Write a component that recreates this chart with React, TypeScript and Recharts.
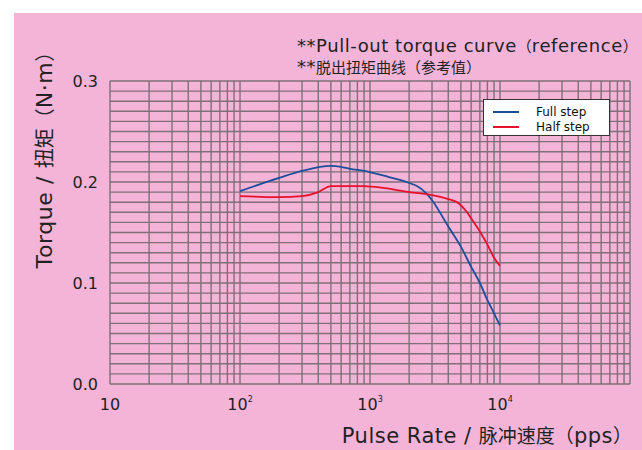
import { LineChart, Line, XAxis, YAxis, CartesianGrid } from 'recharts';

/* ---- data ---- */
const FULL_STEP = [
  { x: 100, y: 0.191 },
  { x: 200, y: 0.204 },
  { x: 300, y: 0.211 },
  { x: 500, y: 0.216 },
  { x: 600, y: 0.215 },
  { x: 700, y: 0.213 },
  { x: 900, y: 0.211 },
  { x: 1300, y: 0.206 },
  { x: 1700, y: 0.202 },
  { x: 2000, y: 0.199 },
  { x: 2300, y: 0.196 },
  { x: 2700, y: 0.189 },
  { x: 3000, y: 0.182 },
  { x: 4000, y: 0.156 },
  { x: 5000, y: 0.136 },
  { x: 6000, y: 0.116 },
  { x: 7000, y: 0.1 },
  { x: 8000, y: 0.083 },
  { x: 9000, y: 0.07 },
  { x: 10000, y: 0.058 },
];

const HALF_STEP = [
  { x: 100, y: 0.186 },
  { x: 200, y: 0.185 },
  { x: 300, y: 0.186 },
  { x: 400, y: 0.19 },
  { x: 500, y: 0.196 },
  { x: 700, y: 0.196 },
  { x: 900, y: 0.196 },
  { x: 1300, y: 0.194 },
  { x: 2000, y: 0.19 },
  { x: 3000, y: 0.187 },
  { x: 4000, y: 0.183 },
  { x: 4800, y: 0.179 },
  { x: 5500, y: 0.171 },
  { x: 6000, y: 0.164 },
  { x: 7000, y: 0.151 },
  { x: 8000, y: 0.138 },
  { x: 9000, y: 0.125 },
  { x: 10000, y: 0.117 },
];

/* grid ticks (log minors on x, 0.01 steps on y) */
const X_TICKS = [
  10, 20, 30, 40, 50, 60, 70, 80, 90,
  100, 200, 300, 400, 500, 600, 700, 800, 900,
  1000, 2000, 3000, 4000, 5000, 6000, 7000, 8000, 9000,
  10000, 20000, 30000, 40000, 50000, 60000, 70000, 80000, 90000,
  100000,
];
const X_LABELS: Record<number, string> = { 10: '', 100: '2', 1000: '3', 10000: '4' };

const Y_TICKS = [
  0, 0.01, 0.02, 0.03, 0.04, 0.05, 0.06, 0.07, 0.08, 0.09,
  0.1, 0.11, 0.12, 0.13, 0.14, 0.15, 0.16, 0.17, 0.18, 0.19,
  0.2, 0.21, 0.22, 0.23, 0.24, 0.25, 0.26, 0.27, 0.28, 0.29,
  0.3,
];
const Y_LABELS: Record<string, string> = { '0': '0.0', '0.1': '0.1', '0.2': '0.2', '0.3': '0.3' };

const SERIES = [
  { name: 'Full step', data: FULL_STEP, color: '#1b4e9b' },
  { name: 'Half step', data: HALF_STEP, color: '#e8102b' },
];

const FONT = '"DejaVu Sans", Verdana, "Noto Sans CJK SC", sans-serif';
const PINK = '#f4b4d8';
const GRID = '#7f6f79';
const INK = '#222';

const CJK_RUN = /[\u3000-\u9fff\uff00-\uffef]+|[^\u3000-\u9fff\uff00-\uffef]+/g;
const IS_CJK = /[\u3000-\u9fff\uff00-\uffef]/;

// latin and CJK runs were set at different sizes in the original
function Mixed({ text, latin, cjk, spacing = 0 }: { text: string; latin: number; cjk: number; spacing?: number }) {
  const runs = text.match(CJK_RUN) || [];
  return (
    <>
      {runs.map((r, i) =>
        IS_CJK.test(r) ? (
          <span key={i} style={{ fontSize: cjk }}>
            {r}
          </span>
        ) : (
          <span key={i} style={{ fontSize: latin, letterSpacing: spacing }}>
            {r}
          </span>
        ),
      )}
    </>
  );
}

function XTick({ x, y, payload }: any) {
  const v = payload.value;
  if (!(v in X_LABELS)) return null;
  const exp = X_LABELS[v];
  return (
    <text x={x} y={y + 18} textAnchor="middle" fontSize={16} fill={INK} fontFamily={FONT}>
      10
      {exp && (
        <tspan fontSize={8} dy={-8}>
          {exp}
        </tspan>
      )}
    </text>
  );
}

function YTick({ x, y, payload }: any) {
  const key = String(payload.value);
  if (!(key in Y_LABELS)) return null;
  return (
    <text x={x - 4} y={y + 6} textAnchor="end" fontSize={16} fill={INK} fontFamily={FONT}>
      {Y_LABELS[key]}
    </text>
  );
}

function LegendBox() {
  return (
    <div
      style={{
        position: 'absolute',
        left: 483,
        top: 99,
        width: 127,
        height: 37,
        background: '#fff',
        border: '1px solid #333',
        fontSize: 12,
        color: '#111',
        padding: '4px 0 0 9px',
        boxSizing: 'border-box',
      }}
    >
      {SERIES.map((s) => (
        <div key={s.name} style={{ display: 'flex', alignItems: 'center', height: 15 }}>
          <span style={{ width: 26, height: 2, background: s.color, display: 'inline-block' }} />
          <span style={{ marginLeft: 17 }}>{s.name}</span>
        </div>
      ))}
    </div>
  );
}

export default function App() {
  return (
    <div
      style={{
        position: 'fixed',
        left: 0,
        top: 0,
        width: 642,
        height: 450,
        background: '#fff',
        overflow: 'hidden',
        fontFamily: FONT,
      }}
    >
      <div style={{ position: 'absolute', left: 14, top: 13, width: 628, height: 437, background: PINK }} />

      <div style={{ position: 'absolute', left: 0, top: 0 }}>
        <LineChart width={642} height={450} margin={{ top: 81, right: 12, bottom: 36, left: 50 }}>
          <CartesianGrid stroke={GRID} strokeWidth={1.4} />
          <XAxis
            type="number"
            dataKey="x"
            scale="log"
            domain={[10, 100000]}
            ticks={X_TICKS}
            interval={0}
            allowDataOverflow
            axisLine={false}
            tickLine={false}
            height={30}
            tick={<XTick />}
          />
          <YAxis
            type="number"
            domain={[0, 0.3]}
            ticks={Y_TICKS}
            interval={0}
            axisLine={false}
            tickLine={false}
            width={60}
            tick={<YTick />}
          />
          {SERIES.map((s) => (
            <Line
              key={s.name}
              data={s.data}
              dataKey="y"
              name={s.name}
              type="monotone"
              stroke={s.color}
              strokeWidth={1.8}
              dot={false}
              isAnimationActive={false}
            />
          ))}
        </LineChart>
      </div>

      <LegendBox />

      <div style={{ position: 'absolute', left: 297, top: 36, color: INK, lineHeight: '20px', whiteSpace: 'nowrap' }}>
        <div>
          <Mixed text="**Pull-out torque curve（reference）" latin={18} cjk={15} spacing={0.55} />
        </div>
        <div>
          <Mixed text="**脱出扭矩曲线（参考值）" latin={18} cjk={15} spacing={0.55} />
        </div>
      </div>

      <div style={{ position: 'absolute', right: 10, top: 423, color: INK, whiteSpace: 'nowrap', lineHeight: '26px' }}>
        <Mixed text="Pulse Rate / 脉冲速度（pps）" latin={21} cjk={19} spacing={0.5} />
      </div>

      <div
        style={{
          position: 'absolute',
          left: 46,
          top: 155,
          color: INK,
          whiteSpace: 'nowrap',
          lineHeight: '26px',
          transform: 'translate(-50%, -50%) rotate(-90deg)',
        }}
      >
        <Mixed text="Torque / 扭矩（N·m）" latin={22} cjk={20} spacing={0.6} />
      </div>
    </div>
  );
}
